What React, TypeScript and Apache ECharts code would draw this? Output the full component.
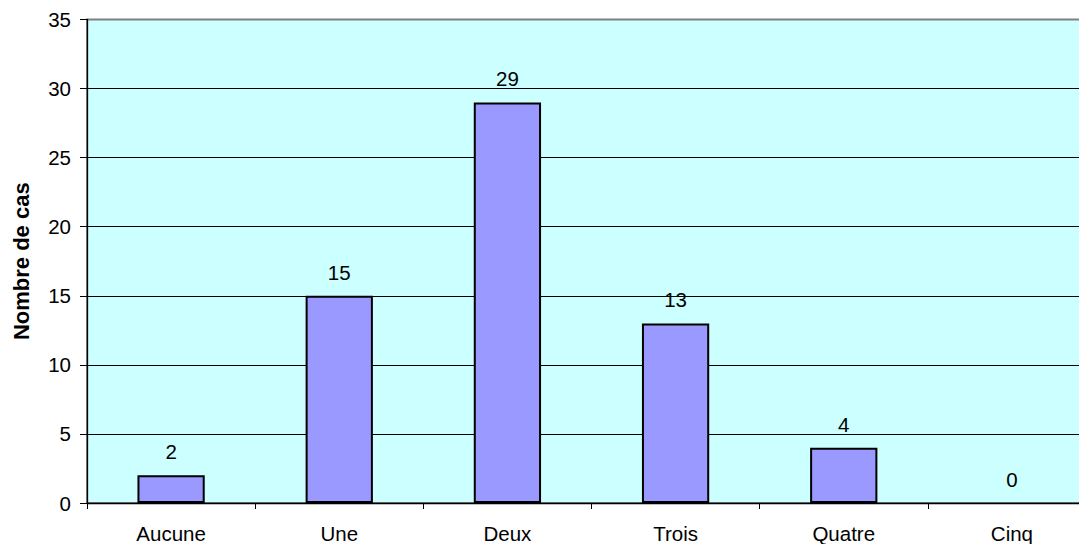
import React, { useEffect, useRef } from "react";
import * as echarts from "echarts";

const categories = ["Aucune", "Une", "Deux", "Trois", "Quatre", "Cinq"];
const values = [2, 15, 29, 13, 4, 0];
const yTicks = [0, 5, 10, 15, 20, 25, 30, 35];
const yAxisTitle = "Nombre de cas";

const FONT = "'Liberation Sans', Arial, sans-serif";

export default function App() {
  const ref = useRef<HTMLDivElement>(null);
  useEffect(() => {
    if (!ref.current) return;
    const chart = echarts.init(ref.current, null, { renderer: "svg" });
    const splitColors = yTicks.map((t, i) => (i === yTicks.length - 1 ? "#808080" : "#000000"));
    const barData = values.map((v) =>
      v === 0 ? { value: v, itemStyle: { borderWidth: 0, opacity: 0 }, label: { opacity: 1 } } : { value: v }
    );
    chart.setOption({
      animation: false,
      grid: {
        left: 87,
        right: 0,
        top: 19.5,
        bottom: 40,
        show: true,
        backgroundColor: "#CCFFFF",
        borderColor: "#808080",
        borderWidth: 2,
      },
      xAxis: {
        type: "category",
        data: categories,
        axisLine: { show: true, lineStyle: { color: "#000", width: 1.3 } },
        axisTick: { show: true, length: 6, lineStyle: { color: "#000" } },
        axisLabel: { color: "#000", fontSize: 20.5, fontFamily: FONT, margin: 20 },
        splitLine: { show: false },
      },
      yAxis: {
        type: "value",
        min: yTicks[0],
        max: yTicks[yTicks.length - 1],
        interval: 5,
        axisLine: { show: true, lineStyle: { color: "#000", width: 1.3 } },
        axisTick: { show: true, length: 7, lineStyle: { color: "#000" } },
        axisLabel: { color: "#000", fontSize: 20.5, fontFamily: FONT, margin: 16 },
        splitLine: { show: true, lineStyle: { color: splitColors, width: 1 } },
        name: yAxisTitle,
        nameLocation: "middle",
        nameRotate: 90,
        nameGap: 55,
        nameTextStyle: { color: "#000", fontSize: 22, fontWeight: "bold", fontFamily: FONT },
      },
      series: [
        {
          type: "bar",
          data: barData,
          barWidth: "40%",
          itemStyle: { color: "#9999FF", borderColor: "#000", borderWidth: 2 },
          label: {
            show: true,
            position: "top",
            distance: 13,
            color: "#000",
            fontSize: 20.5,
            fontFamily: FONT,
          },
        },
      ],
    });
    return () => chart.dispose();
  }, []);
  return (
    <div style={{ position: "absolute", left: 0, top: 0, width: 1079, height: 544, overflow: "hidden", background: "#fff" }}>
      <div ref={ref} style={{ position: "absolute", left: 0, top: 0, width: 1096, height: 544 }} />
    </div>
  );
}
